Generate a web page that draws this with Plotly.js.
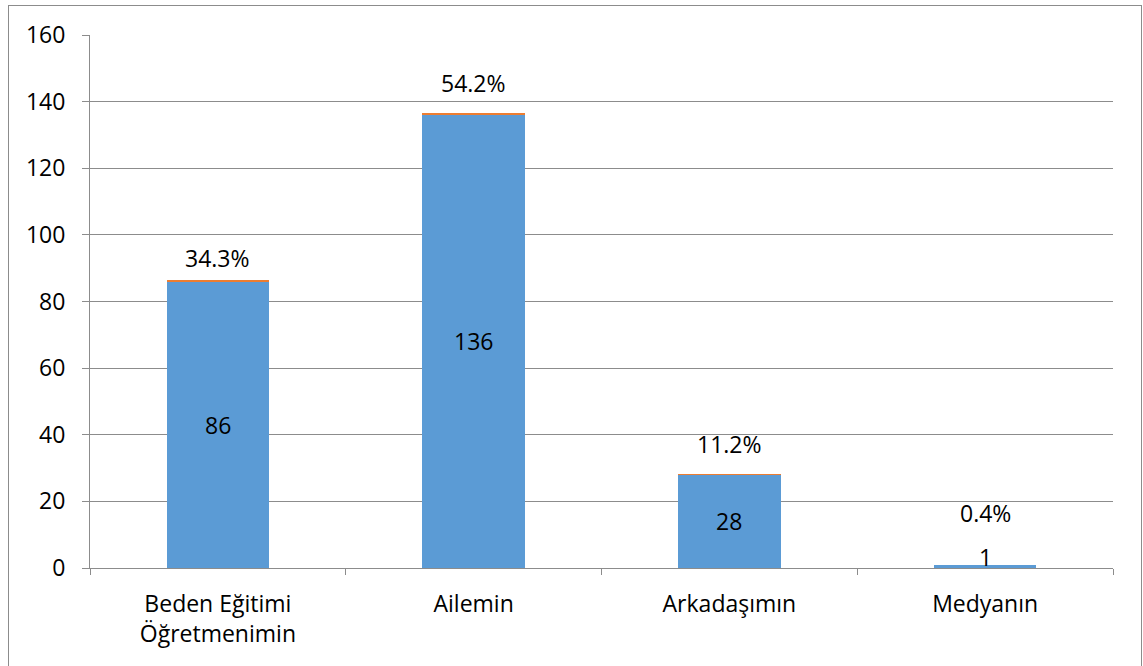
<!DOCTYPE html>
<html>
<head>
<meta charset="utf-8">
<script src="https://cdn.plot.ly/plotly-3.0.1.min.js"></script>
<style>
  html, body { margin: 0; padding: 0; background: #ffffff; overflow: hidden; }
  #chart { width: 1143px; height: 666px; }
  #frame { position: absolute; left: 8px; top: 5px; width: 1134px; height: 680px;
           border: 1px solid #8c8c8c; box-sizing: border-box; pointer-events: none; }
</style>
</head>
<body>
<div id="chart"></div>
<div id="frame"></div>
<script>
// ---- data ----
const categories = ["Beden Eğitimi<br>Öğretmenimin", "Ailemin", "Arkadaşımın", "Medyanın"];
const counts = [86, 136, 28, 1];
const shares = [0.343, 0.542, 0.112, 0.004];
const shareLabels = ["34.3%", "54.2%", "11.2%", "0.4%"];
const yTicks = [0, 20, 40, 60, 80, 100, 120, 140, 160];

// ---- style ----
const FONT = "'Open Sans', Lato, sans-serif";
const FS = 23;
const BLUE = "#5B9BD5";
const ORANGE = "#ED7D31";
const GRID = "#8c8c8c";
const shareShift = [22, 30, 30, 52];   // pixel offsets of the percent labels above bar tops
const countShift = [0, 0, 0, 9];       // pixel offsets of the count labels

const traces = [
  { type: "bar", x: categories, y: counts, marker: { color: BLUE }, hoverinfo: "none" },
  { type: "bar", x: categories, y: shares, marker: { color: ORANGE }, hoverinfo: "none" }
];

const annotations = [];
categories.forEach((c, i) => {
  annotations.push({ x: c, y: counts[i] / 2, xref: "x", yref: "y", text: String(counts[i]),
    showarrow: false, yanchor: "middle", yshift: countShift[i], font: { family: FONT, size: FS, color: "#000" } });
  annotations.push({ x: c, y: counts[i] + shares[i], xref: "x", yref: "y", text: shareLabels[i],
    showarrow: false, yanchor: "middle", yshift: shareShift[i], font: { family: FONT, size: FS, color: "#000" } });
});

const layout = {
  width: 1143, height: 666,
  margin: { l: 90, r: 30, t: 35, b: 98 },
  paper_bgcolor: "#ffffff", plot_bgcolor: "#ffffff",
  barmode: "stack", bargap: 0.6,
  showlegend: false,
  font: { family: FONT, size: FS, color: "#000" },
  xaxis: {
    type: "category", showgrid: false, showline: true, linecolor: GRID, linewidth: 1,
    ticks: "outside", tickson: "boundaries", ticklen: 6, tickcolor: GRID,
    ticklabelstandoff: 15,
    tickfont: { family: FONT, size: FS, color: "#000" }, zeroline: false, fixedrange: true
  },
  yaxis: {
    range: [0, 160], tickvals: yTicks, ticktext: yTicks.map(String),
    showgrid: true, gridcolor: GRID, gridwidth: 1, showline: true, linecolor: GRID,
    ticks: "outside", ticklen: 7, tickcolor: GRID, zeroline: false,
    ticklabelstandoff: 12,
    tickfont: { family: FONT, size: FS, color: "#000" }, fixedrange: true
  },
  annotations: annotations
};

Plotly.newPlot("chart", traces, layout, { staticPlot: true, displayModeBar: false });
</script>
</body>
</html>
